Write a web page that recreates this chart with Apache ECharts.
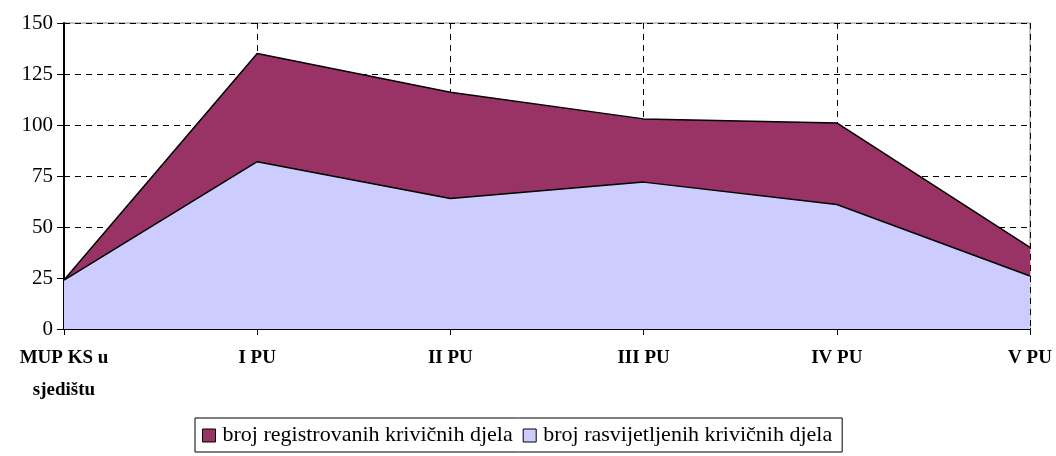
<!DOCTYPE html>
<html>
<head>
<meta charset="utf-8">
<script src="https://cdn.jsdelivr.net/npm/echarts@6/dist/echarts.min.js"></script>
<style>
  html, body { margin: 0; padding: 0; background: #fff; }
  #chart { width: 1056px; height: 456px; }
</style>
</head>
<body>
<div id="chart"></div>
<script>
// podaci
var categories = ["MUP KS u\nsjedištu", "I PU", "II PU", "III PU", "IV PU", "V PU"];
var registrovana = [24, 135, 116, 103, 101, 40];
var rasvijetljena = [24, 82, 64, 72, 61, 26];
var yTicks = [0, 25, 50, 75, 100, 125, 150];

var chart = echarts.init(document.getElementById("chart"));
var serif = "Liberation Serif, Times New Roman, serif";

var option = {
  animation: false,
  textStyle: { fontFamily: serif },
  grid: {
    left: 64, right: 26, top: 23, bottom: 127,
    show: true, borderColor: "#888", borderWidth: 1
  },
  legend: {
    top: 418,
    left: 195,
    itemWidth: 13,
    itemHeight: 13,
    itemGap: 10,
    padding: [5, 10, 4, 7],
    borderColor: "#000",
    borderWidth: 1,
    icon: "rect",
    textStyle: { fontFamily: serif, fontSize: 22, lineHeight: 25, color: "#000", padding: [0, 0, 0, 2] },
    data: [
      { name: "broj registrovanih krivičnih djela", itemStyle: { color: "#993366", borderColor: "#000", borderWidth: 1 } },
      { name: "broj rasvijetljenih krivičnih djela", itemStyle: { color: "#CCCCFF", borderColor: "#000", borderWidth: 1 } }
    ]
  },
  xAxis: {
    type: "category",
    data: categories,
    boundaryGap: false,
    axisLine: { lineStyle: { color: "#000", width: 2 } },
    axisTick: { show: true, length: 6, lineStyle: { color: "#000", width: 1 } },
    axisLabel: {
      fontFamily: serif, fontSize: 19, fontWeight: "bold", color: "#000",
      margin: 13, lineHeight: 32
    },
    splitLine: { show: true, lineStyle: { color: "#000", type: [6, 5], width: 1 } }
  },
  yAxis: {
    type: "value",
    min: yTicks[0],
    max: yTicks[yTicks.length - 1],
    interval: 25,
    axisLine: { show: true, lineStyle: { color: "#000", width: 2 } },
    axisTick: { show: true, length: 7, lineStyle: { color: "#000", width: 1 } },
    axisLabel: { fontFamily: serif, fontSize: 21, color: "#000", margin: 11 },
    splitLine: { show: true, lineStyle: { color: "#000", type: [6, 5], width: 1 } }
  },
  series: [
    {
      name: "broj registrovanih krivičnih djela",
      type: "line",
      data: registrovana,
      symbol: "none",
      lineStyle: { color: "#000", width: 1.5 },
      itemStyle: { color: "#993366" },
      areaStyle: { color: "#993366", opacity: 1 },
      z: 2
    },
    {
      name: "broj rasvijetljenih krivičnih djela",
      type: "line",
      data: rasvijetljena,
      symbol: "none",
      lineStyle: { color: "#000", width: 1.5 },
      itemStyle: { color: "#CCCCFF" },
      areaStyle: { color: "#CCCCFF", opacity: 1 },
      z: 3
    }
  ]
};

option && chart.setOption(option);
</script>
</body>
</html>
